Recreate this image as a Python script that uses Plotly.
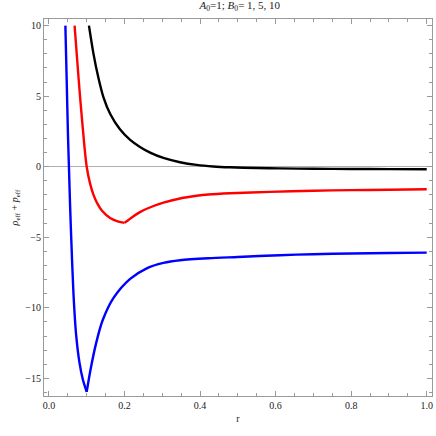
import plotly.graph_objects as go

# values
r_black = [0.106, 0.118, 0.131, 0.144, 0.162, 0.188, 0.215, 0.241, 0.268, 0.303,
           0.347, 0.391, 0.435, 0.479, 0.55, 0.611, 0.7, 0.8, 0.9, 1.0]
v_black = [10, 8.0, 6.3, 4.95, 3.75, 2.65, 1.9, 1.4, 1.0, 0.62,
           0.32, 0.13, 0.02, -0.04, -0.09, -0.12, -0.14, -0.16, -0.17, -0.18]

r_red = [0.068, 0.075, 0.082, 0.094, 0.100, 0.109, 0.118, 0.128, 0.140, 0.162, 0.184, 0.200,
         0.223, 0.241, 0.259, 0.303, 0.347, 0.391, 0.422, 0.479, 0.585, 0.7, 0.8, 0.9, 1.0]
v_red = [10, 7.5, 5.1, 1.45, 0.0, -1.2, -2.0, -2.6, -3.1, -3.63, -3.89, -3.98,
         -3.52, -3.22, -2.98, -2.55, -2.25, -2.06, -1.97, -1.88, -1.78, -1.70, -1.66, -1.63, -1.60]

r_blue = [0.0436, 0.047, 0.0505, 0.053, 0.056, 0.059, 0.065, 0.072, 0.081, 0.090, 0.100,
          0.110, 0.125, 0.142, 0.171, 0.215, 0.259, 0.303, 0.347, 0.422, 0.5,
          0.611, 0.7, 0.8, 0.9, 1.0]
v_blue = [10, 6.2, 2.2, 0.0, -2.7, -5.0, -9.0, -11.9, -13.9, -15.1, -15.95,
          -14.4, -12.5, -10.9, -9.3, -7.95, -7.2, -6.82, -6.63, -6.49, -6.4,
          -6.27, -6.2, -6.15, -6.12, -6.09]

x_ticks = [0.0, 0.2, 0.4, 0.6, 0.8, 1.0]
x_labels = ["0.0", "0.2", "0.4", "0.6", "0.8", "1.0"]
y_ticks = [-15, -10, -5, 0, 5, 10]

FONT = "Liberation Serif"
FRAME = "#9a9a9a"
TXT = "#222"

fig = go.Figure()


def add_curve(xs, ys, color, split):
    # split at the cusp so the spline keeps it sharp
    parts = [(xs[:split + 1], ys[:split + 1]), (xs[split:], ys[split:])] if split else [(xs, ys)]
    for px, py in parts:
        fig.add_trace(go.Scatter(
            x=px, y=py, mode="lines",
            line=dict(color=color, width=2.4, shape="spline", smoothing=0.8),
            showlegend=False, hoverinfo="skip",
        ))


add_curve(r_black, v_black, "black", None)
add_curve(r_red, v_red, "#ff0000", v_red.index(min(v_red)))
add_curve(r_blue, v_blue, "#0000ff", v_blue.index(min(v_blue)))

axis_common = dict(
    showline=True, linecolor=FRAME, linewidth=1, mirror="allticks",
    ticks="inside", tickcolor=FRAME, ticklen=5, tickwidth=1,
    showgrid=False,
    tickfont=dict(family=FONT, size=10, color=TXT),
)

fig.update_layout(
    width=436, height=436,
    margin=dict(l=44, r=4, t=19, b=40),
    paper_bgcolor="white", plot_bgcolor="white",
    title=dict(
        text="<i>A</i><sub>0</sub>=1; <i>B</i><sub>0</sub>= 1, 5, 10",
        x=0.55, xanchor="center", y=0.997, yanchor="top",
        font=dict(family=FONT, size=11, color=TXT),
    ),
    xaxis=dict(
        range=[-0.013, 1.014], tickvals=x_ticks, ticktext=x_labels,
        minor=dict(ticks="inside", dtick=0.05, ticklen=3, tickcolor=FRAME),
        zeroline=False,
        title=dict(text="r", font=dict(family=FONT, size=10, color=TXT), standoff=4),
        **axis_common,
    ),
    yaxis=dict(
        range=[-16.25, 10.47], tickvals=y_ticks,
        minor=dict(ticks="inside", dtick=1, ticklen=3, tickcolor=FRAME),
        zeroline=True, zerolinecolor="#b0b0b0", zerolinewidth=1,
        title=dict(text="<i>ρ</i><sub>eff</sub> + <i>p</i><sub>eff</sub>",
                   font=dict(family=FONT, size=10, color=TXT), standoff=4),
        **axis_common,
    ),
)

fig.write_html("out.html", config={"displayModeBar": False},
               post_script="document.body.style.margin='0';")
